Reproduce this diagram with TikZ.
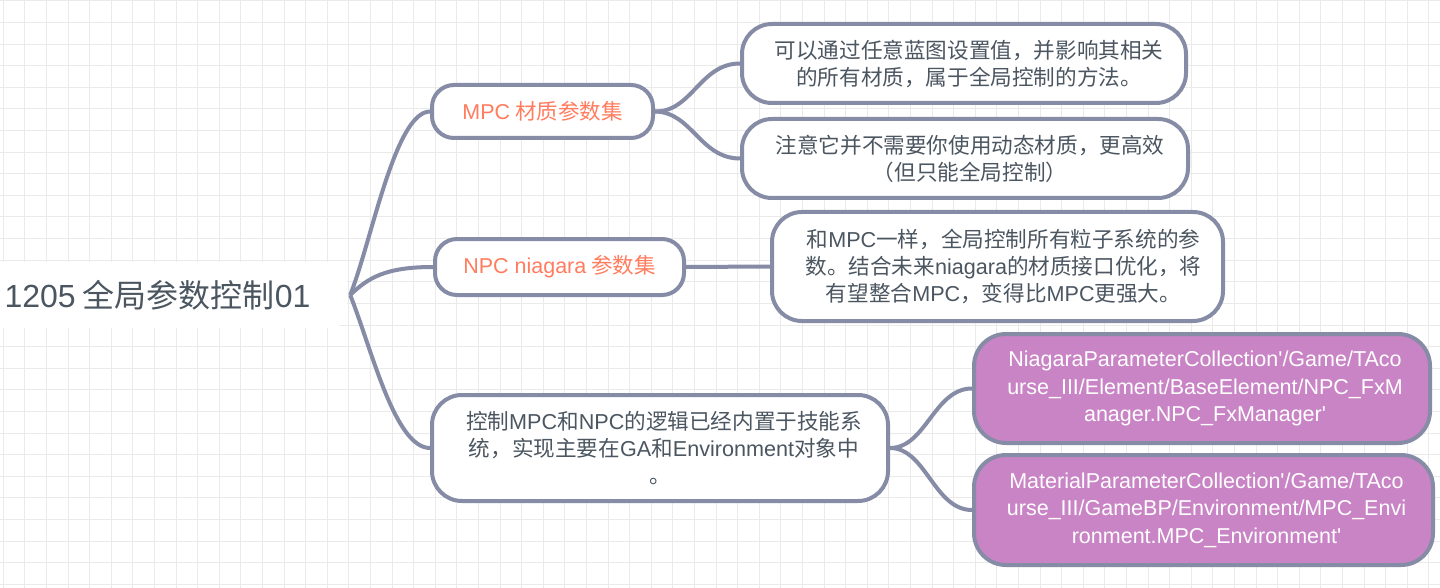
\documentclass[tikz,border=0pt]{standalone}
\usepackage{fontspec}
\setmainfont{Noto Sans CJK SC}
\newfontfamily\lat{Liberation Sans}
\definecolor{gridc}{HTML}{EAEAEA}
\definecolor{edgec}{HTML}{878CA6}
\definecolor{txtc}{HTML}{4B5661}
\definecolor{orangec}{HTML}{FF7D5E}
\definecolor{purplec}{HTML}{C984C5}
\tikzset{
  gridline/.style={draw=gridc, line width=1pt},
  rootbox/.style={fill=white, rounded corners=16pt, text=txtc, inner sep=0pt,
    minimum width=367pt, minimum height=66pt, font=\fontsize{32}{37}\selectfont},
  topicbox/.style={draw=edgec, line width=4pt, rounded corners=22pt, fill=white,
    text=orangec, inner sep=0pt, font=\fontsize{21.5}{27}\selectfont},
  notebox/.style={draw=edgec, line width=4pt, rounded corners=30pt, fill=white,
    text=txtc, align=center, inner sep=0pt, font=\fontsize{21.6}{27}\selectfont},
  pathbox/.style={draw=edgec, line width=4pt, rounded corners=32pt, fill=purplec,
    text=white, align=center, inner sep=0pt, font=\lat\fontsize{21.5}{27.5}\selectfont},
  conn/.style={draw=edgec, line width=4pt},
}
\begin{document}
\begin{tikzpicture}[x=1pt,y=-1pt]
\useasboundingbox (0,0) rectangle (1440,588);
\fill[white] (0,0) rectangle (1440,588);
% grid
\foreach \i in {0,...,66} {\draw[gridline] ({3.3+21.6*\i},0) -- ({3.3+21.6*\i},588);}
\foreach \j in {0,...,27} {\draw[gridline] (0,{1+21.6*\j}) -- (1440,{1+21.6*\j});}
% nodes
\node[rootbox] (root) at (163.5,295) {\hspace*{-12pt}{\lat 1205} 全局参数控制{\lat 01}};
\node[topicbox, minimum width=221pt, minimum height=53pt] (mpc) at (542.5,111.5) {{\lat MPC} 材质参数集};
\node[topicbox, minimum width=249pt, minimum height=56pt] (npc) at (559.5,267) {{\lat NPC niagara} 参数集};
\node[notebox, minimum width=444pt, minimum height=79pt] (c1) at (964,63.5)
  {\hspace*{10pt}可以通过任意蓝图设置值，并影响其相关\\\hspace*{10pt}的所有材质，属于全局控制的方法。};
\node[notebox, minimum width=446pt, minimum height=79pt] (c2) at (965,158.5)
  {\hspace*{10pt}注意它并不需要你使用动态材质，更高效\\\hspace*{10pt}（但只能全局控制）};
\node[notebox, minimum width=451pt, minimum height=109pt] (c3) at (997.5,266.5)
  {\hspace*{12pt}和{\lat MPC}一样，全局控制所有粒子系统的参\\\hspace*{12pt}数。结合未来{\lat niagara}的材质接口优化，将\\\hspace*{12pt}有望整合{\lat MPC}，变得比{\lat MPC}更强大。};
\node[notebox, minimum width=456pt, minimum height=106pt] (logic) at (660,448)
  {\hspace*{8pt}控制{\lat MPC}和{\lat NPC}的逻辑已经内置于技能系\\\hspace*{8pt}统，实现主要在{\lat GA}和{\lat Environment}对象中\\。};
\node[pathbox, minimum width=456pt, minimum height=109pt] (p1) at (1202,388.5)
  {\hspace*{6pt}NiagaraParameterCollection'/Game/TAco\\\hspace*{6pt}urse\_III/Element/BaseElement/NPC\_FxM\\\hspace*{6pt}anager.NPC\_FxManager'};
\node[pathbox, minimum width=459pt, minimum height=110pt] (p2) at (1203.5,510)
  {\hspace*{6pt}MaterialParameterCollection'/Game/TAco\\\hspace*{6pt}urse\_III/GameBP/Environment/MPC\_Envi\\\hspace*{6pt}ronment.MPC\_Environment'};
% connectors
\coordinate (rp) at ([xshift=3pt]root.east);
\draw[conn] (rp) .. controls (372,240) and (395,112) .. (mpc.west);
\draw[conn] (rp) .. controls (368,278) and (385,267) .. (npc.west);
\draw[conn] (rp) .. controls (372,350) and (395,448) .. (logic.west);
\draw[conn] (mpc.east) .. controls (692,112) and (700,63.5) .. (c1.west);
\draw[conn] (mpc.east) .. controls (692,112) and (700,158.5) .. (c2.west);
\draw[conn] (npc.east) -- (c3.west);
\draw[conn] (logic.east) .. controls (926,448) and (934,388.5) .. (p1.west);
\draw[conn] (logic.east) .. controls (926,448) and (934,510) .. (p2.west);
\end{tikzpicture}
\end{document}
